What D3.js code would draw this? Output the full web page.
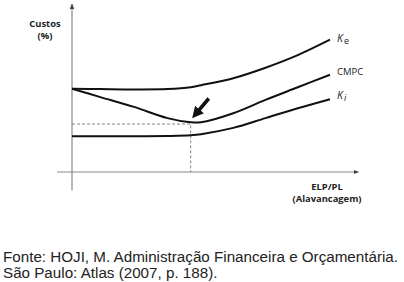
<!DOCTYPE html>
<html lang="en">
<head>
<meta charset="UTF-8">
<title>Custos x Alavancagem</title>
<script src="https://cdn.jsdelivr.net/npm/d3@7"></script>
<style>
body{margin:0;background:#fff}
.lbl{font-family:"Open Sans",sans-serif;font-weight:bold;font-size:9.4px;fill:#222}
.src{font-family:"Liberation Sans",Arial,sans-serif;font-size:15.2px;fill:#222}
</style>
</head>
<body>
<svg id="chart" width="404" height="282"></svg>
<script>
// curve points (x = leverage, y = cost %)
var xs=[0,1.1,2.4,3.7,4.6,5,6.25,7.5,8.75,10]
var ke=[11.9,11.85,11.8,11.85,12.1,12.4,13.4,14.9,16.7,18.9]
var cmpc=[11.9,10.7,9.3,7.7,7.1,7.1,8.4,10.3,12.1,13.9]
var ki=[5.1,5.1,5.1,5.15,5.25,5.4,6.3,7.7,9.1,10.4]
var seriesNames=['Ke','CMPC','Ki']
var optimum={x:4.6,y:6.85}

var svg=d3.select('#chart')
var x=d3.scaleLinear().domain([0,10]).range([72,330])
var y=d3.scaleLinear().domain([0,24]).range([172,4])

var defs=svg.append('defs')
defs.append('marker').attr('id','ax').attr('viewBox','0 0 10 10').attr('refX',9).attr('refY',5)
  .attr('markerWidth',5).attr('markerHeight',5).attr('orient','auto')
  .append('path').attr('d','M0,1L10,5L0,9z').attr('fill','#444')
defs.append('marker').attr('id','big').attr('viewBox','0 0 10 10').attr('refX',5).attr('refY',5)
  .attr('markerWidth',3.2).attr('markerHeight',3.2).attr('orient','auto')
  .append('path').attr('d','M0,0L10,5L0,10z').attr('fill','#111')

// axes
svg.append('line').attr('x1',x(0)).attr('x2',x(0)).attr('y1',y(-2.6)).attr('y2',y(24))
  .attr('stroke','#888').attr('stroke-width',1.2).attr('marker-end','url(#ax)')
svg.append('line').attr('x1',x(-0.58)).attr('x2',x(11.1)).attr('y1',y(0)).attr('y2',y(0))
  .attr('stroke','#888').attr('stroke-width',1).attr('marker-end','url(#ax)')

// optimum guides
svg.append('path').attr('d',`M${x(0)},${y(optimum.y)}H${x(optimum.x)}V${y(0)}`)
  .attr('fill','none').attr('stroke','#666').attr('stroke-width',0.8).attr('stroke-dasharray','3,2')

var line=d3.line().x((d,i)=>x(xs[i])).y(d=>y(d)).curve(d3.curveCatmullRom)
;[ke,cmpc,ki].forEach(function(s){
  svg.append('path').datum(s).attr('d',line).attr('fill','none').attr('stroke','#111').attr('stroke-width',2)
})

// arrow to minimum
svg.append('line').attr('x1',x(5.3)).attr('x2',x(4.8)).attr('y1',y(10.5)).attr('y2',y(8.3))
  .attr('stroke','#111').attr('stroke-width',3.6).attr('marker-end','url(#big)')

// curve labels
var ends=[ke[ke.length-1],cmpc[cmpc.length-1],ki[ki.length-1]]
var k1=svg.append('text').attr('x',x(10)+7).attr('y',y(ends[0])+2).attr('font-family','Open Sans').attr('font-size',10.5).attr('fill','#222')
k1.append('tspan').attr('font-style','italic').text('K')
k1.append('tspan').attr('font-size',9).attr('dy',2).attr('dx',1).text('e')
svg.append('text').attr('x',x(10)+7).attr('y',y(ends[1])).attr('font-family','Open Sans').attr('font-size',9.5).attr('fill','#222').text(seriesNames[1])
var k3=svg.append('text').attr('x',x(10)+7).attr('y',y(ends[2])).attr('font-family','Open Sans').attr('font-size',10.5).attr('fill','#222')
k3.append('tspan').attr('font-style','italic').text('K')
k3.append('tspan').attr('font-size',9).attr('dy',2).attr('dx',1).attr('font-style','italic').text('i')

// axis titles
svg.append('text').attr('class','lbl').attr('x',45).attr('y',27).attr('text-anchor','middle').text('Custos')
svg.append('text').attr('class','lbl').attr('x',45).attr('y',38.5).attr('text-anchor','middle').text('(%)')
svg.append('text').attr('class','lbl').attr('x',327).attr('y',190).attr('text-anchor','middle').text('ELP/PL')
svg.append('text').attr('class','lbl').attr('x',327).attr('y',202).attr('text-anchor','middle').text('(Alavancagem)')

// source
svg.append('text').attr('class','src').attr('x',3).attr('y',262).text('Fonte: HOJI, M. Administração Financeira e Orçamentária.')
svg.append('text').attr('class','src').attr('x',3).attr('y',278).text('São Paulo: Atlas (2007, p. 188).')
</script>
</body>
</html>
